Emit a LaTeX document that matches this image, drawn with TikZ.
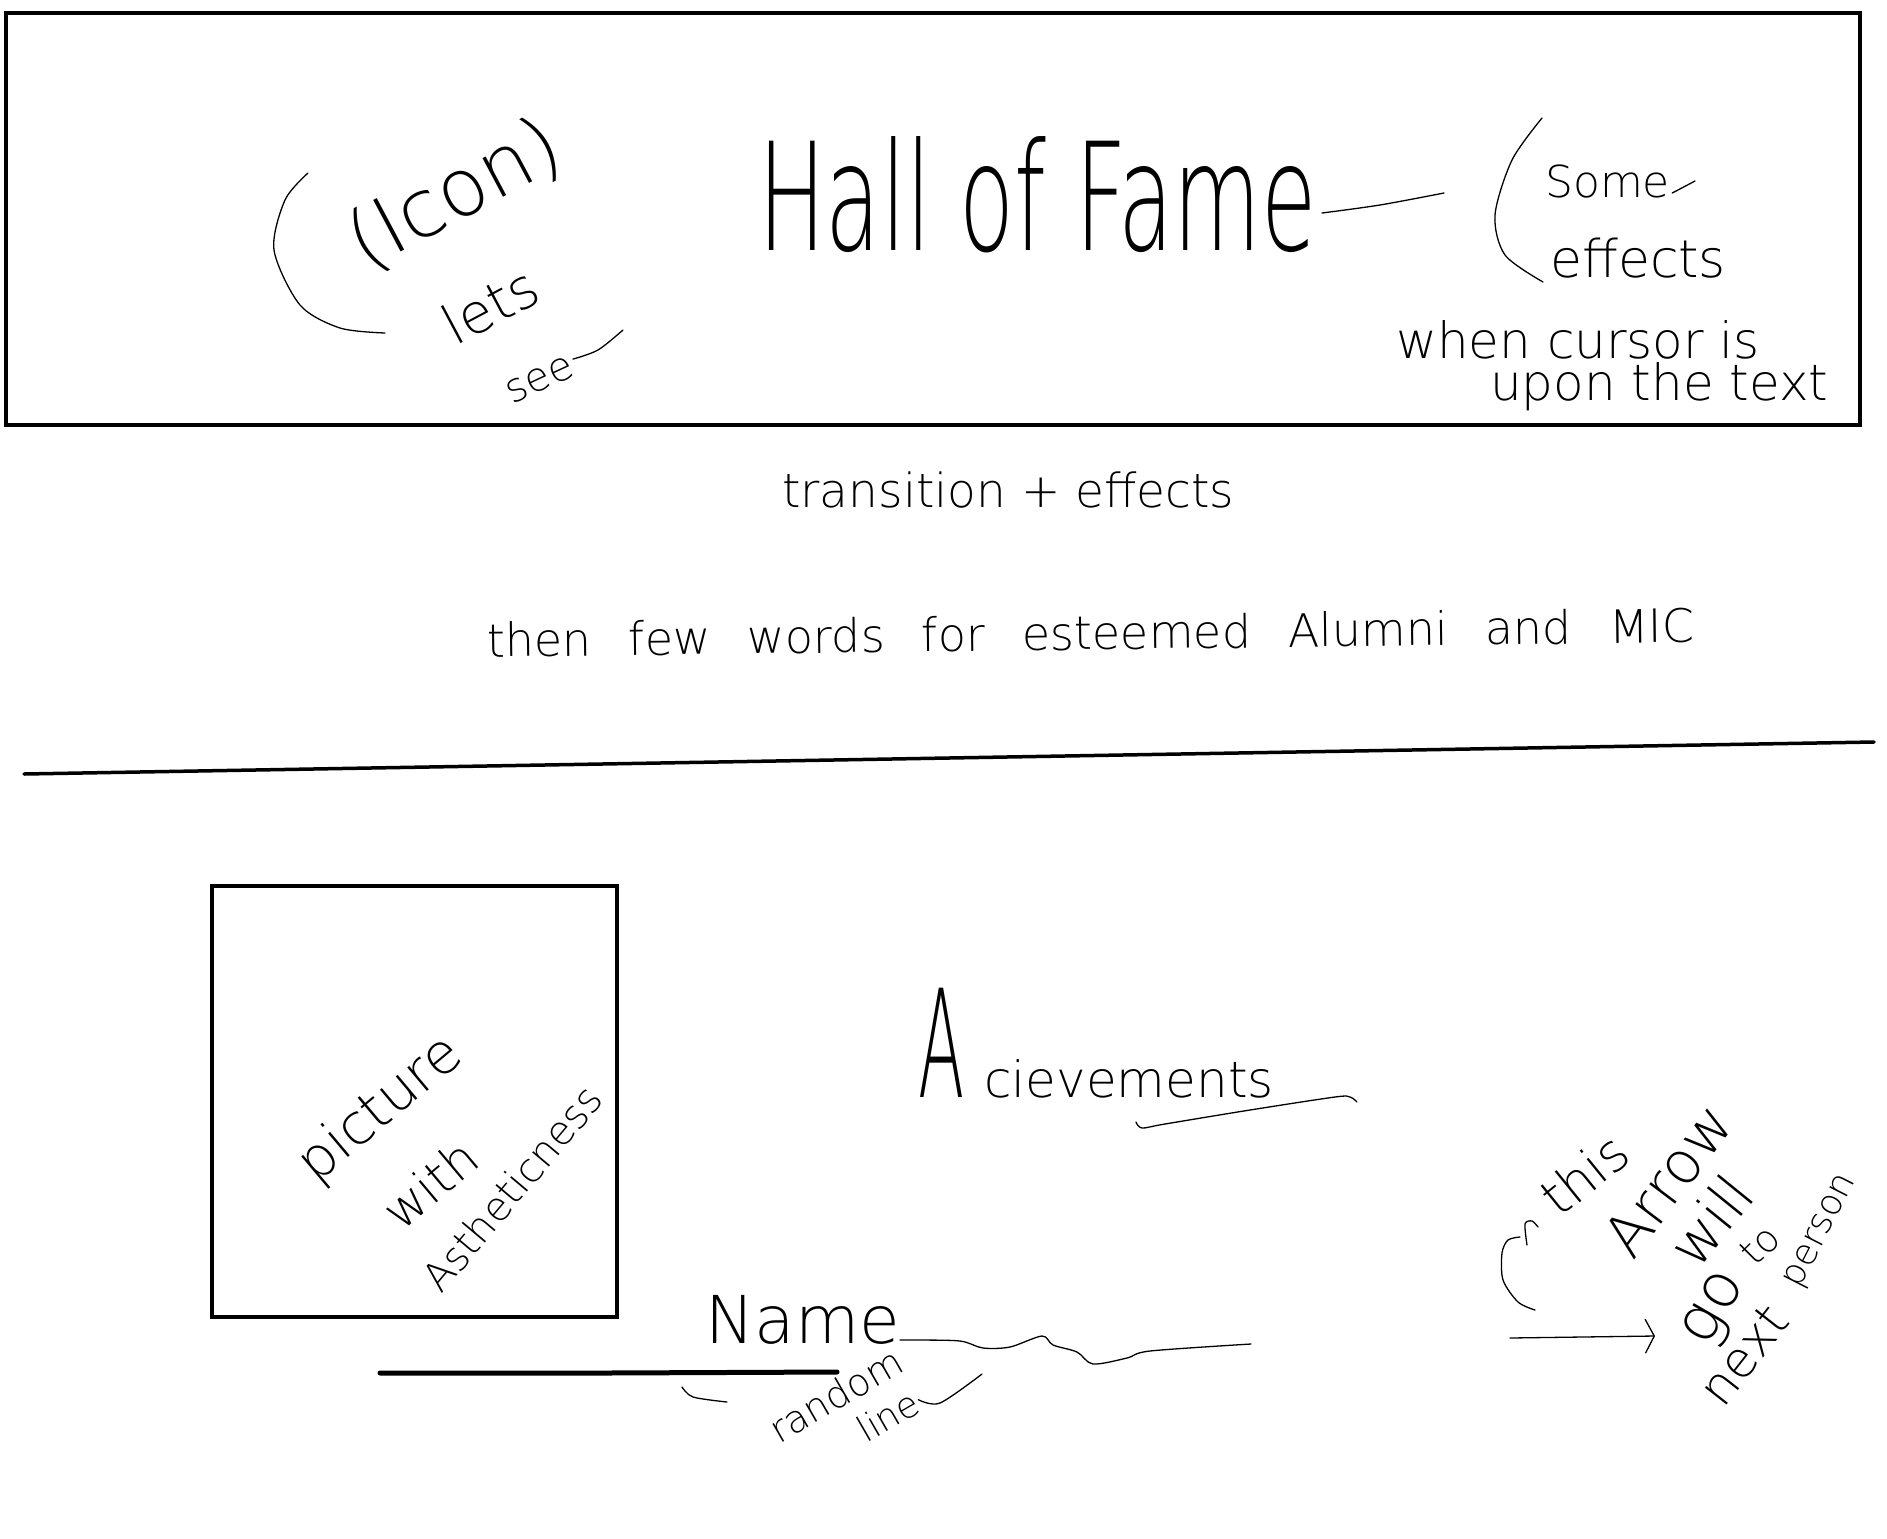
\documentclass[tikz,border=0pt]{standalone}
\usepackage{fontspec}
\usepackage{tikz}
\usetikzlibrary{arrows.meta, positioning}

\newfontfamily\handfont{DejaVuSans-ExtraLight.ttf}
\newcommand{\handsize}[1]{\fontsize{#1}{#1}\selectfont}

\begin{document}
\begin{tikzpicture}[
    x=1pt, y=-1pt,
    every node/.style={font=\handfont, inner sep=0pt},
    boxline/.style={draw, line width=4.5pt},
    sepline/.style={line width=3.5pt, line cap=round},
    pen/.style={line width=1.3pt, line cap=round, line join=round},
    note/.style={font=\handfont\handsize{#1}},
    arrow/.style={-{Straight Barb[length=9pt, width=34pt]}, pen},
]
\useasboundingbox (0,0) rectangle (1887,1539);
\fill[white] (0,0) rectangle (1887,1539);

% Header box
\draw [boxline] (6,13) rectangle (1860,425);

\draw [pen] plot[smooth] coordinates {(308,173) (285,200) (274,250) (300,305) (340,328) (385,333)};
\node (icon) [note=80, rotate=28] at (455,195) {(Icon)};
\node (lets) [note=55, rotate=28] at (490,305) {lets};
\node (see) [note=40, rotate=25] at (540,380) {see};
\draw [pen] plot[smooth] coordinates {([xshift=1pt, yshift=6pt]see.east) (598,350) (623,330)};

\node (title) [note=150, anchor=base west] at (758,250) {\scalebox{0.6}[1]{Hall of Fame}};
\draw [pen] plot[smooth] coordinates {(1322,213) (1380,205) (1444,193)};

\draw [pen] plot[smooth] coordinates {(1542,118) (1512,160) (1495,215) (1505,255) (1543,282)};
\node (some) [note=44, anchor=base west] at (1545,197) {Some};
\draw [pen] plot[smooth] coordinates {([xshift=2pt, yshift=4pt]some.base east) (1678,190) (1695,181)};
\node (effects) [note=52, anchor=base west] at (1550,277) {effects};
\node (cursor) [note=50, anchor=base west] at (1396,358) {when cursor is};
\node (upon) [note=50, anchor=base west] at (1490,400) {upon the text};

% Middle
\node (transition) [note=47, anchor=base west] at (782,507) {transition + effects};
\node (words) [note=46, anchor=base west, rotate=0.7] at (487,657)
    {\spaceskip=37pt then few words for esteemed Alumni and MIC};

\draw [sepline] (24,774) -- (1874,742);

% Profile
\draw [boxline] (212,886) rectangle (617,1317);
\node (picture) [note=56, rotate=40] at (381,1110) {picture};
\node (with) [note=50, rotate=40] at (430,1184) {with};
\node (aesthetic) [note=40, rotate=50] at (512,1188) {Astheticness};

\node (achieve) [note=50, anchor=base west] at (918,1097)
    {{\handsize{150}\scalebox{0.45}[1]{A}}\hspace{20pt}cievements};
\draw [pen] plot[smooth] coordinates {(1136,1122) (1142,1128) (1165,1124) (1250,1110) (1335,1097) (1350,1097) (1357,1102)};

\node (name) [note=66, anchor=base west] at (705,1343) {Name};
\draw [pen] plot[smooth] coordinates {(900,1340) (915,1340) (960,1341) (983,1348) (1010,1347) (1042,1336) (1053,1345) (1077,1352) (1093,1364) (1127,1358) (1150,1351) (1251,1344)};
\draw [line width=5pt, line cap=round] (380,1373) -- (608,1373) -- (837,1372);

\draw [pen] plot[smooth] coordinates {(682,1387) (693,1397) (727,1402)};
\node (random) [note=38, rotate=30] at (836,1395) {random};
\node (line) [note=36, rotate=30] at (888,1416) {line};
\draw [pen] plot[smooth] coordinates {([xshift=2pt]line.east) (940,1403) (982,1374)};

% Next person
\draw [pen] plot[smooth] coordinates {(1535,1310) (1518,1302) (1503,1280) (1502,1253) (1508,1240) (1520,1237)};
\draw [pen] plot[smooth] coordinates {(1527,1245) (1525,1224) (1532,1221) (1538,1227)};
\node (this) [note=52, rotate=39] at (1584,1174) {this};
\node (arrowword) [note=59, rotate=53] at (1668,1180) {Arrow};
\node (will) [note=58, rotate=51] at (1710,1220) {will};
\node (to) [note=38, rotate=45] at (1760,1245) {to};
\node (go) [note=62, rotate=60] at (1717,1310) {go};
\node (next) [note=50, rotate=52] at (1744,1355) {next};
\node (person) [note=36, rotate=63] at (1822,1232) {person};

\coordinate (prev) at (1510,1338);
\coordinate (nextp) at (1655,1336);
\draw [arrow] (prev) -- (nextp);

\end{tikzpicture}
\end{document}
